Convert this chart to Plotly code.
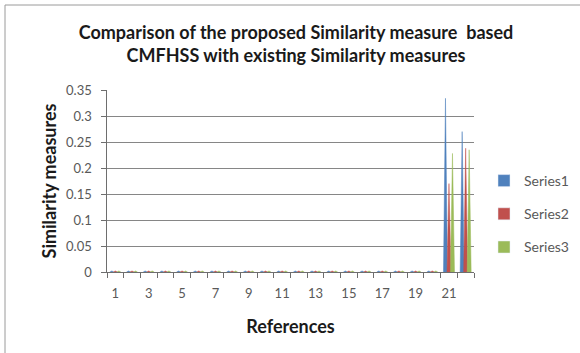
import plotly.graph_objects as go

categories = list(range(1, 23))
series_names = ["Series1", "Series2", "Series3"]
series1 = [0.002, 0.002, 0.002, 0.002, 0.002, 0.002, 0.002, 0.002, 0.002, 0.002,
           0.002, 0.002, 0.002, 0.002, 0.002, 0.002, 0.002, 0.002, 0.002, 0.002,
           0.334, 0.270]
series2 = [0.002, 0.002, 0.002, 0.002, 0.002, 0.002, 0.002, 0.002, 0.002, 0.002,
           0.002, 0.002, 0.002, 0.002, 0.002, 0.002, 0.002, 0.002, 0.002, 0.002,
           0.170, 0.238]
series3 = [0.002, 0.002, 0.002, 0.002, 0.002, 0.002, 0.002, 0.002, 0.002, 0.002,
           0.002, 0.002, 0.002, 0.002, 0.002, 0.002, 0.002, 0.002, 0.002, 0.002,
           0.228, 0.235]
tick_labels = [str(c) for c in categories if c % 2 == 1]
y_ticks = [0, 0.05, 0.1, 0.15, 0.2, 0.25, 0.3, 0.35]
y_tick_labels = ["0", "0.05", "0.1", "0.15", "0.2", "0.25", "0.3", "0.35"]

colors = ["#4F81BD", "#C0504D", "#9BBB59"]
all_series = [series1, series2, series3]

offsets = [-0.21, 0.0, 0.21]
half_w = 0.12

W, H = 580, 353
ML, MR, MT, MB = 107, 106, 90, 81
PW, PH = W - ML - MR, H - MT - MB

def px_x(p):
    return (p - ML) / PW

def px_y(p):
    return (H - MB - p) / PH

fig = go.Figure()
for s, (name, vals, col, off) in enumerate(zip(series_names, all_series, colors, offsets)):
    xs, ys = [], []
    for c, v in zip(categories, vals):
        xc = c + off
        xs += [xc - half_w, xc, xc + half_w, None]
        ys += [0, v, 0, None]
    fig.add_trace(go.Scatter(x=xs, y=ys, mode="lines", fill="toself",
                             line=dict(color=col, width=0.5), fillcolor=col,
                             showlegend=False, hoverinfo="skip"))
    fig.add_trace(go.Bar(x=[None], y=[None], name=name, marker_color=col,
                         legendgroup=name, showlegend=True))

# invisible trace on the overlay axis so it is drawn
fig.add_trace(go.Scatter(x=[None], y=[None], xaxis="x2", yaxis="y",
                         showlegend=False, hoverinfo="skip"))

grey = "#595959"
dark = "#1a1a1a"
axis_grey = "#6e6e6e"
nb = "\u00a0\u00a0"
clear = "rgba(0,0,0,0)"
boundaries = [c - 0.5 for c in categories] + [categories[-1] + 0.5]
fig.update_layout(
    width=W, height=H,
    paper_bgcolor="white", plot_bgcolor="white",
    margin=dict(l=ML, r=MR, t=MT, b=MB, autoexpand=False),
    modebar=dict(bgcolor=clear, color=clear, activecolor=clear),
    title=dict(text="Comparison of the proposed Similarity measure  based<br>CMFHSS with existing Similarity measures",
               x=px_x(296), xanchor="center", xref="paper", y=1 - 39 / H, yanchor="middle",
               font=dict(family="Lato", size=18, color=dark, weight="bold")),
    xaxis=dict(range=[0.5, 22.5], tickvals=[c for c in categories if c % 2 == 1],
               ticktext=tick_labels, ticks="outside", ticklen=9, tickwidth=1,
               tickcolor="rgba(255,255,255,0)", showgrid=False,
               showline=True, linecolor=axis_grey, linewidth=1,
               tickfont=dict(family="Lato", size=13, color=grey),
               title=dict(text="References", standoff=20,
                          font=dict(family="Lato", size=18, color=dark, weight="bold")),
               zeroline=False),
    xaxis2=dict(range=[0.5, 22.5], overlaying="x", anchor="y", side="bottom",
                tickvals=boundaries, ticks="outside", ticklen=5, tickwidth=1,
                tickcolor=axis_grey, showticklabels=False, showgrid=False,
                showline=False, zeroline=False),
    yaxis=dict(range=[0, 0.35], tickvals=y_ticks, ticktext=[t + nb for t in y_tick_labels],
               ticks="outside", ticklen=5, tickwidth=1, tickcolor=axis_grey,
               showgrid=True, gridcolor="#868686", gridwidth=1,
               showline=True, linecolor=axis_grey, linewidth=1,
               tickfont=dict(family="Lato", size=13, color=grey),
               title=dict(text="Similarity measures", standoff=4,
                          font=dict(family="Lato", size=18, color=dark, weight="bold")),
               zeroline=False),
    legend=dict(x=px_x(484), xanchor="left", y=px_y(214), yanchor="middle",
                font=dict(family="Lato", size=14, color=grey),
                tracegroupgap=12, itemwidth=30, bgcolor="rgba(0,0,0,0)"),
    shapes=[dict(type="rect", xref="paper", yref="paper",
                 x0=px_x(5), x1=px_x(W + 20), y0=px_y(H + 20), y1=px_y(5),
                 line=dict(color="#9a9a9a", width=1), fillcolor="rgba(0,0,0,0)", layer="below")],
)

fig.write_html("out.html", config={"displaylogo": False},
               post_script="document.body.style.margin='0';")
